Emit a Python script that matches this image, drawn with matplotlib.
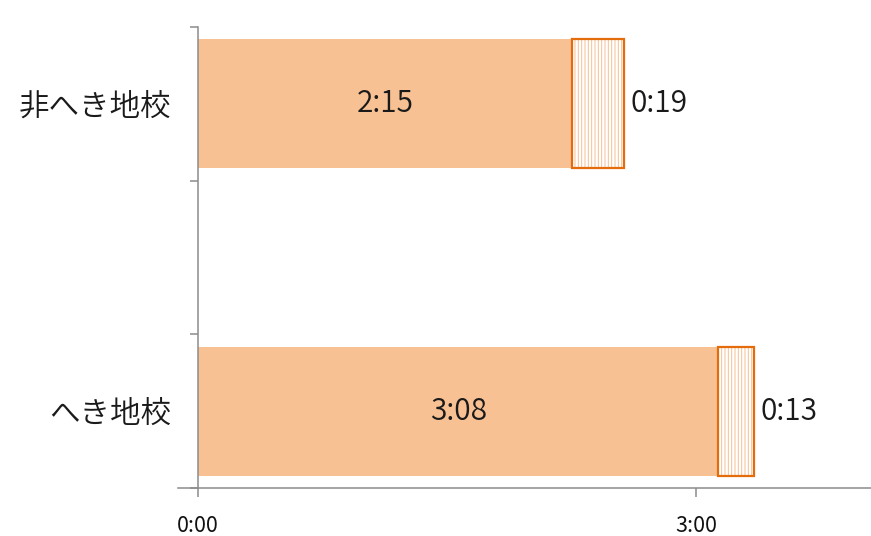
import matplotlib
matplotlib.use("Agg")
import matplotlib.pyplot as plt

# --- data (minutes) ---
categories = ["非へき地校", "へき地校"]
cat_pos = [2, 0]                 # middle slot left empty, as in the original
base_min = [135, 188]            # 2:15, 3:08
extra_min = [19, 13]             # 0:19, 0:13
xtick_min = [0, 180]
xtick_labels = ["0:00", "3:00"]


def fmt(m):
    return f"{m // 60}:{m % 60:02d}"


plt.rcParams["font.family"] = ["Noto Sans CJK JP", "DejaVu Sans"]
plt.rcParams["hatch.linewidth"] = 0.7

fill_c = "#F8C193"
edge_c = "#E46C0A"
hatch_c = "#F6BF93"
axis_c = "#8C8C8C"
text_c = "#1a1a1a"

fig = plt.figure(figsize=(8.71, 5.36), dpi=100)
ax = fig.add_axes([178 / 871, 1 - 488 / 536, (871 - 178) / 871, 461 / 536])

h = 0.84
ax.barh(cat_pos, base_min, height=h, color=fill_c, linewidth=0)
ax.barh(cat_pos, extra_min, left=base_min, height=h, color="white",
        edgecolor=hatch_c, hatch="|||||", linewidth=0)
ax.barh(cat_pos, extra_min, left=base_min, height=h, fill=False,
        edgecolor=edge_c, linewidth=1.6)

for y, b, e in zip(cat_pos, base_min, extra_min):
    ax.text(b / 2, y, fmt(b), ha="center", va="center", fontsize=21.5,
            fontweight=350, color=text_c)
    ax.text(b + e + 2.3, y, fmt(e), ha="left", va="center", fontsize=21.5,
            fontweight=350, color=text_c)

ax.set_xlim(-7.23, 243.2)
ax.set_ylim(-0.5, 2.5)

for s in ["top", "right"]:
    ax.spines[s].set_visible(False)
ax.spines["left"].set_position(("data", 0))
for s in ["left", "bottom"]:
    ax.spines[s].set_color(axis_c)
    ax.spines[s].set_linewidth(1.1)

ax.set_xticks(xtick_min)
ax.set_xticklabels(xtick_labels, fontsize=15.5, color="#111111")
ax.tick_params(axis="x", direction="out", length=6.5, width=1.1, color=axis_c, pad=13)

ax.set_yticks(cat_pos)
ax.set_yticklabels(categories, fontsize=22, color=text_c, fontweight=350)
ax.set_yticks([-0.5, 0.5, 1.5, 2.5], minor=True)
ax.tick_params(axis="y", which="major", length=0, pad=19)
ax.tick_params(axis="y", which="minor", direction="out", length=6, width=1.1, color=axis_c)

fig.savefig("out.png", dpi=100)
